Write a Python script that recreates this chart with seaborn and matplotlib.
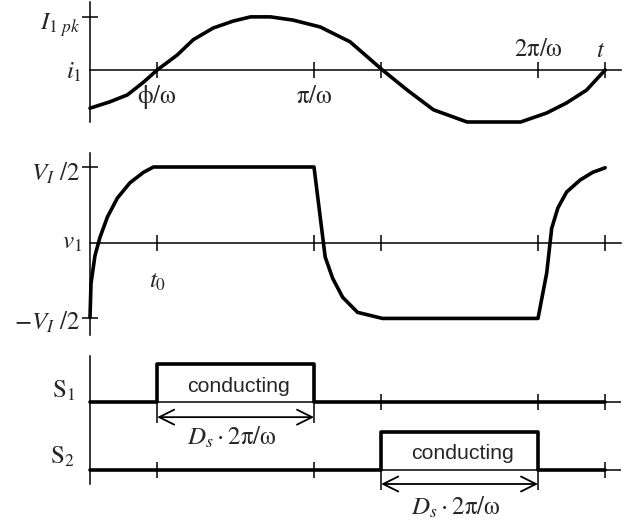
import matplotlib
matplotlib.use("Agg")
import matplotlib.pyplot as plt
import seaborn as sns

# time axis in degrees of wt, amplitudes per unit
tick_deg = [54, 180, 234, 360, 414]
t_end = 426.7

# i1 (current)
i_time = [0, 16, 30, 43, 54, 70, 83, 99, 115, 129, 145, 163, 185, 209, 235,
          255, 276, 303, 324, 346, 367, 383, 399, 414]
i_value = [-0.72, -0.60, -0.47, -0.23, 0.0, 0.28, 0.57, 0.79, 0.92, 1.0, 1.0,
           0.94, 0.81, 0.53, 0.0, -0.38, -0.75, -0.98, -0.98, -0.98, -0.81,
           -0.62, -0.38, 0.0]

# v1 (voltage), in units of VI/2
v_time = [0, 0.8, 4, 8, 14, 22, 32, 43, 51, 180, 189, 195, 203, 215, 235,
          360, 367, 371, 376, 383, 394, 404, 414]
v_value = [-0.99, -0.54, -0.17, 0.07, 0.34, 0.59, 0.79, 0.93, 1.0, 1.0, -0.19,
           -0.47, -0.72, -0.92, -1.0, -1.0, -0.40, 0.19, 0.46, 0.67, 0.83,
           0.93, 0.99]

# switch states
s1_time = [0, 54, 54, 180, 180, 414]
s1_state = [0, 0, 1, 1, 0, 0]
s2_time = [0, 234, 234, 360, 360, 414]
s2_state = [0, 0, 1, 1, 0, 0]
s1_ticks = [234, 360, 414]
s2_ticks = [54, 180, 414]

sns.set_style("white")
plt.rcParams["font.family"] = ["Liberation Serif", "DejaVu Serif"]
plt.rcParams["mathtext.fontset"] = "stix"

W, H = 634, 522
fig = plt.figure(figsize=(W / 100, H / 100), dpi=100)


def px_axes(top, bottom, left=90, right=621):
    return fig.add_axes([left / W, 1 - bottom / H, (right - left) / W, (bottom - top) / H])


def cross_axes(ax, yticks):
    for s in ["top", "right"]:
        ax.spines[s].set_visible(False)
    ax.spines["bottom"].set_position(("data", 0))
    ax.spines["left"].set_position(("data", 0))
    for s in ["bottom", "left"]:
        ax.spines[s].set_linewidth(1.1)
        ax.spines[s].set_color("black")
    ax.set_xticks(tick_deg)
    ax.set_yticks(yticks)
    ax.tick_params(direction="inout", length=12, width=1.1, color="black",
                   bottom=True, left=True, labelbottom=False, labelleft=False)
    ax.set_xlim(0, t_end)
    ax.set_xlabel("")
    ax.set_ylabel("")
    ax.patch.set_visible(False)


LW = 2.6
FS = 18

# current
ax_i = px_axes(2, 122)
sns.lineplot(x=i_time, y=i_value, ax=ax_i, color="black", lw=LW, sort=False,
             estimator=None, clip_on=False)
ax_i.set_ylim(-0.98, 1.28)
cross_axes(ax_i, [1.0])
ax_i.text(-8, 0.85, r"$I_{1\ pk}$", ha="right", va="center", fontsize=FS)
ax_i.text(-6.4, -0.05, r"$i_1$", ha="right", va="center", fontsize=FS)
ax_i.text(tick_deg[0], -0.51, r"$\mathrm{\phi/\omega}$", ha="center", va="center", fontsize=FS)
ax_i.text(tick_deg[1], -0.51, r"$\mathrm{\pi/\omega}$", ha="center", va="center", fontsize=FS)
ax_i.text(tick_deg[3], 0.38, r"$\mathrm{2\pi/\omega}$", ha="center", va="center", fontsize=FS)
ax_i.text(410.6, 0.36, r"$t$", ha="center", va="center", fontsize=FS)

# voltage
ax_v = px_axes(153, 335)
sns.lineplot(x=v_time, y=v_value, ax=ax_v, color="black", lw=LW, sort=False,
             estimator=None, clip_on=False)
ax_v.set_ylim(-1.219, 1.185)
cross_axes(ax_v, [1.0, -1.0])
ax_v.text(-8, 0.92, r"$V_I\ /2$", ha="right", va="center", fontsize=FS)
ax_v.text(-6.4, 0.0, r"$v_1$", ha="right", va="center", fontsize=FS)
ax_v.text(-8, -1.05, r"$-V_I\ /2$", ha="right", va="center", fontsize=FS)
ax_v.text(tick_deg[0], -0.52, r"$t_0$", ha="center", va="center", fontsize=FS)

# switches
ax_s = px_axes(356, 484)
s1_base = 1.79
ax_s.hlines([s1_base, 0], 0, t_end, color="black", lw=1.1)
sns.lineplot(x=s1_time, y=[s + s1_base for s in s1_state], ax=ax_s, color="black",
             lw=LW, sort=False, estimator=None, clip_on=False)
sns.lineplot(x=s2_time, y=s2_state, ax=ax_s, color="black", lw=LW, sort=False,
             estimator=None, clip_on=False)
ax_s.plot(s1_ticks, [s1_base] * len(s1_ticks), ls="none", marker="|", ms=12,
          mew=1.1, color="black", clip_on=False)
ax_s.plot(s2_ticks, [0] * len(s2_ticks), ls="none", marker="|", ms=12,
          mew=1.1, color="black", clip_on=False)
ax_s.set_xlim(0, t_end)
ax_s.set_ylim(-0.37, 3.0)
for s in ["top", "right", "bottom"]:
    ax_s.spines[s].set_visible(False)
ax_s.spines["left"].set_linewidth(1.1)
ax_s.spines["left"].set_color("black")
ax_s.set_xticks([])
ax_s.set_yticks([])
ax_s.set_xlabel("")
ax_s.set_ylabel("")
ax_s.patch.set_visible(False)

ax_s.text(-12, 2.08, r"$\mathrm{S}_1$", ha="right", va="center", fontsize=FS)
ax_s.text(-12, 0.34, r"$\mathrm{S}_2$", ha="right", va="center", fontsize=FS)


def conducting(ax, t_on, t_off, base, arrow_y, dim_low, label_y):
    mid = (t_on + t_off) / 2
    ax.text(mid + 2, base + 0.42, "conducting", ha="center", va="center",
            fontsize=15.3, family="Liberation Sans")
    ax.vlines([t_on, t_off], dim_low, base, color="black", lw=1.1, clip_on=False)
    ax.annotate("", xy=(t_on, arrow_y), xytext=(t_off, arrow_y),
                arrowprops=dict(arrowstyle="<->,head_length=0.6,head_width=0.3",
                                lw=1.3, color="black", mutation_scale=18,
                                shrinkA=0, shrinkB=0),
                annotation_clip=False)
    ax.text(mid - 3, label_y, r"$D_s\cdot\mathrm{2\pi/\omega}$", ha="center",
            va="center", fontsize=FS)


conducting(ax_s, s1_time[1], s1_time[3], s1_base, 1.39, 1.24, 0.86)
conducting(ax_s, s2_time[1], s2_time[3], 0.0, -0.37, -0.53, -0.98)

fig.savefig("out.png", dpi=100)
